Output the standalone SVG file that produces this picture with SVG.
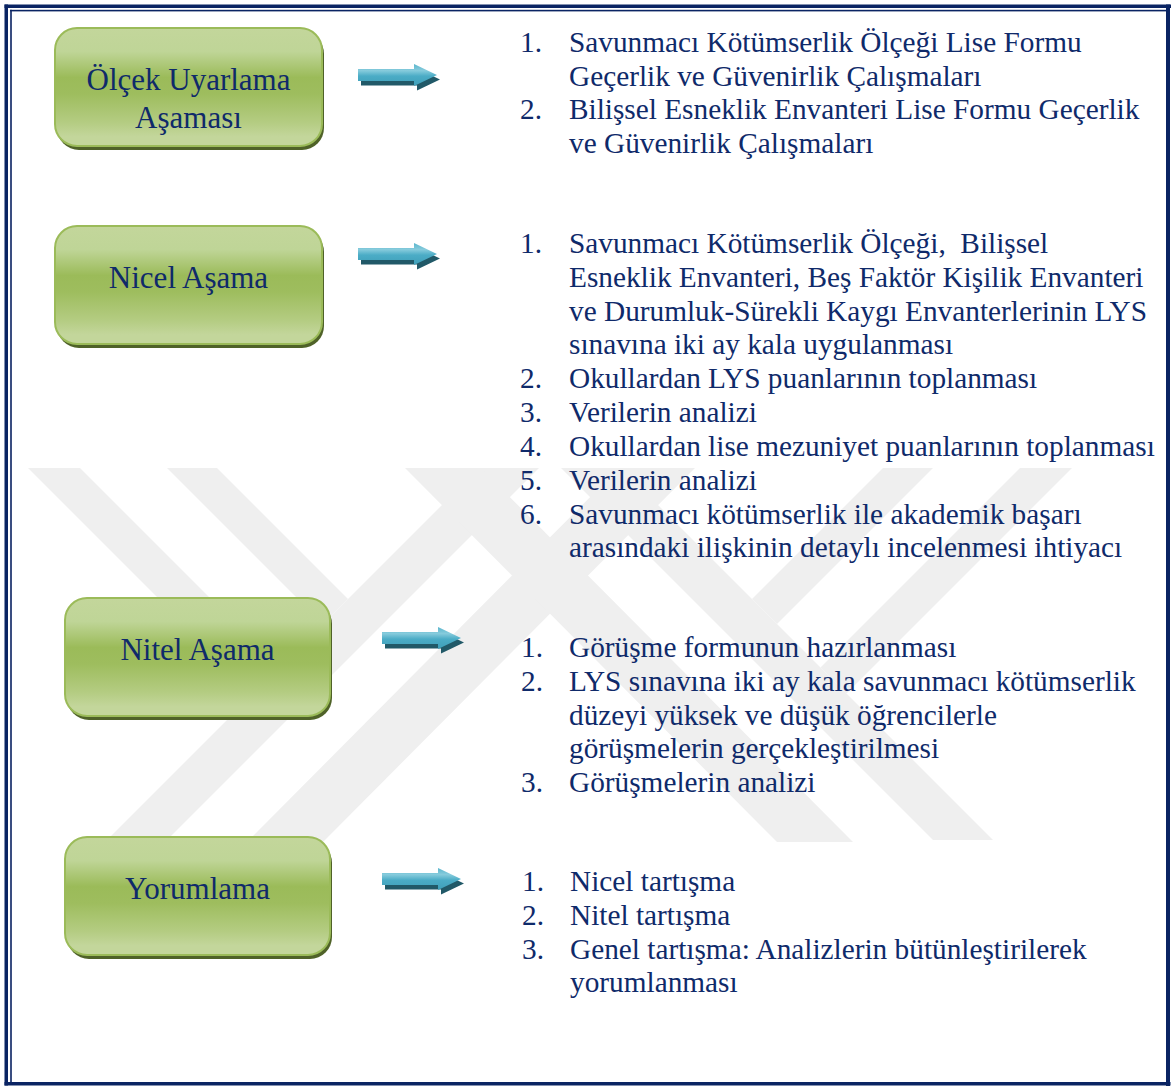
<svg xmlns="http://www.w3.org/2000/svg" width="1171" height="1086" viewBox="0 0 1171 1086">
  <style>
    .frame { fill: #0a2463; }
    .mark { fill: #efefef; }
    .box { stroke: #9bbb59; stroke-width: 2; fill: url(#boxFill); }
    .boxShadow { fill: #4f6228; }
    .label { font-family: 'Liberation Serif', 'DejaVu Serif', serif; font-size: 31px; fill: #0f2a6a; text-anchor: middle; }
    .item { font-family: 'Liberation Serif', 'DejaVu Serif', serif; font-size: 29.3px; fill: #0f2a6a; white-space: pre; }
    .arrowBody { fill: url(#arrowFill); }
    .arrowShadow { fill: #215968; }
  </style>
  <defs>
    <linearGradient id="boxFill" x1="0" y1="0" x2="0" y2="1">
      <stop offset="0" stop-color="#c3d69b"/>
      <stop offset="0.2" stop-color="#bfd597"/>
      <stop offset="0.42" stop-color="#9bbb59"/>
      <stop offset="0.56" stop-color="#9ebd5e"/>
      <stop offset="0.8" stop-color="#b4cc82"/>
      <stop offset="0.92" stop-color="#c3d69b"/>
      <stop offset="1" stop-color="#c3d69b"/>
    </linearGradient>
    <linearGradient id="arrowFill" x1="0" y1="0" x2="0" y2="1">
      <stop offset="0" stop-color="#5bb6cd"/>
      <stop offset="0.3" stop-color="#86cbdc"/>
      <stop offset="0.55" stop-color="#4bacc6"/>
      <stop offset="1" stop-color="#3f9fb9"/>
    </linearGradient>
    <clipPath id="markClip">
      <rect x="0" y="468" width="1171" height="374"/>
    </clipPath>
    <!-- block arrow: shaft 12px high, head 22px high -->
    <g id="blockArrow">
      <polygon class="arrowShadow" transform="translate(3,4.5)" points="0,0 56,0 56,-5 79,6 56,17 56,12 0,12"/>
      <polygon class="arrowBody" points="0,0 56,0 56,-5 79,6 56,17 56,12 0,12"/>
    </g>
  </defs>

  <rect width="1171" height="1086" fill="#ffffff"/>

  <!-- background watermark -->
  <g id="watermark" clip-path="url(#markClip)">
    <polygon class="mark" points="28,468 80,468 279.5,667.5 253.5,693.5"/>
    <polygon class="mark" points="167,468 217,468 348,599 323,624"/>
    <polygon class="mark" points="479,468 539,468 167,840 107,840"/>
    <polygon class="mark" points="619,468 695,468 323,842 247,842"/>
    <polygon class="mark" points="561,468 621,468 993,840 933,840"/>
    <polygon class="mark" points="405,468 481,468 853,842 777,842"/>
    <polygon class="mark" points="933,468 883,468 752,599 777,624"/>
    <polygon class="mark" points="1072,468 1020,468 820.5,667.5 846.5,693.5"/>
  </g>

  <!-- page border -->
  <g id="border">
    <rect class="frame" x="4.5" y="4.5" width="1166.5" height="3.5"/>
    <rect class="frame" x="4.5" y="4.5" width="3.5" height="1081"/>
    <rect class="frame" x="1166" y="4.5" width="4" height="1081.5"/>
    <rect class="frame" x="4.5" y="1082" width="1166" height="3.5"/>
    <rect class="frame" x="10" y="9.8" width="1156" height="1.6"/>
    <rect class="frame" x="10.2" y="9.8" width="1.6" height="1072.5"/>
  </g>

  <!-- phase boxes -->
  <g id="node-olcek">
    <rect class="boxShadow" x="57" y="32" width="267" height="118" rx="22"/>
    <rect class="box" x="55" y="28" width="267" height="118" rx="22"/>
    <text class="label" x="188.5" y="90">Ölçek Uyarlama</text>
    <text class="label" x="188.5" y="128">Aşaması</text>
  </g>
  <g id="node-nicel">
    <rect class="boxShadow" x="57" y="230" width="267" height="118" rx="22"/>
    <rect class="box" x="55" y="226" width="267" height="118" rx="22"/>
    <text class="label" x="188.5" y="288">Nicel Aşama</text>
  </g>
  <g id="node-nitel">
    <rect class="boxShadow" x="67" y="602" width="265" height="118" rx="22"/>
    <rect class="box" x="65" y="598" width="265" height="118" rx="22"/>
    <text class="label" x="197.5" y="660">Nitel Aşama</text>
  </g>
  <g id="node-yorum">
    <rect class="boxShadow" x="67" y="841" width="265" height="118" rx="22"/>
    <rect class="box" x="65" y="837" width="265" height="118" rx="22"/>
    <text class="label" x="197.5" y="899">Yorumlama</text>
  </g>

  <!-- connectors -->
  <g id="connectors">
    <use href="#blockArrow" x="358" y="69"/>
    <use href="#blockArrow" x="358" y="248"/>
    <use href="#blockArrow" x="382" y="632"/>
    <use href="#blockArrow" x="382" y="873"/>
  </g>

  <!-- step lists -->
  <g id="list-olcek">
    <text class="item" x="520" y="52">1.</text>
    <text class="item" x="569" y="52">Savunmacı Kötümserlik Ölçeği Lise Formu</text>
    <text class="item" x="569" y="85.5">Geçerlik ve Güvenirlik Çalışmaları</text>
    <text class="item" x="520" y="119">2.</text>
    <text class="item" x="569" y="119">Bilişsel Esneklik Envanteri Lise Formu Geçerlik</text>
    <text class="item" x="569" y="152.5">ve Güvenirlik Çalışmaları</text>
  </g>
  <g id="list-nicel">
    <text class="item" x="520" y="253">1.</text>
    <text class="item" x="569" y="253">Savunmacı Kötümserlik Ölçeği,  Bilişsel</text>
    <text class="item" x="569" y="287">Esneklik Envanteri, Beş Faktör Kişilik Envanteri</text>
    <text class="item" x="569" y="320.5">ve Durumluk-Sürekli Kaygı Envanterlerinin LYS</text>
    <text class="item" x="569" y="354">sınavına iki ay kala uygulanması</text>
    <text class="item" x="520" y="388">2.</text>
    <text class="item" x="569" y="388">Okullardan LYS puanlarının toplanması</text>
    <text class="item" x="520" y="422">3.</text>
    <text class="item" x="569" y="422">Verilerin analizi</text>
    <text class="item" x="520" y="456">4.</text>
    <text class="item" x="569" y="456">Okullardan lise mezuniyet puanlarının toplanması</text>
    <text class="item" x="520" y="489.5">5.</text>
    <text class="item" x="569" y="489.5">Verilerin analizi</text>
    <text class="item" x="520" y="523.5">6.</text>
    <text class="item" x="569" y="523.5">Savunmacı kötümserlik ile akademik başarı</text>
    <text class="item" x="569" y="557">arasındaki ilişkinin detaylı incelenmesi ihtiyacı</text>
  </g>
  <g id="list-nitel">
    <text class="item" x="521" y="657">1.</text>
    <text class="item" x="569" y="657">Görüşme formunun hazırlanması</text>
    <text class="item" x="521" y="691">2.</text>
    <text class="item" x="569" y="691">LYS sınavına iki ay kala savunmacı kötümserlik</text>
    <text class="item" x="569" y="724.5">düzeyi yüksek ve düşük öğrencilerle</text>
    <text class="item" x="569" y="758">görüşmelerin gerçekleştirilmesi</text>
    <text class="item" x="521" y="792">3.</text>
    <text class="item" x="569" y="792">Görüşmelerin analizi</text>
  </g>
  <g id="list-yorum">
    <text class="item" x="522" y="891">1.</text>
    <text class="item" x="570" y="891">Nicel tartışma</text>
    <text class="item" x="522" y="925">2.</text>
    <text class="item" x="570" y="925">Nitel tartışma</text>
    <text class="item" x="522" y="958.5">3.</text>
    <text class="item" x="570" y="958.5">Genel tartışma: Analizlerin bütünleştirilerek</text>
    <text class="item" x="570" y="992">yorumlanması</text>
  </g>
</svg>
